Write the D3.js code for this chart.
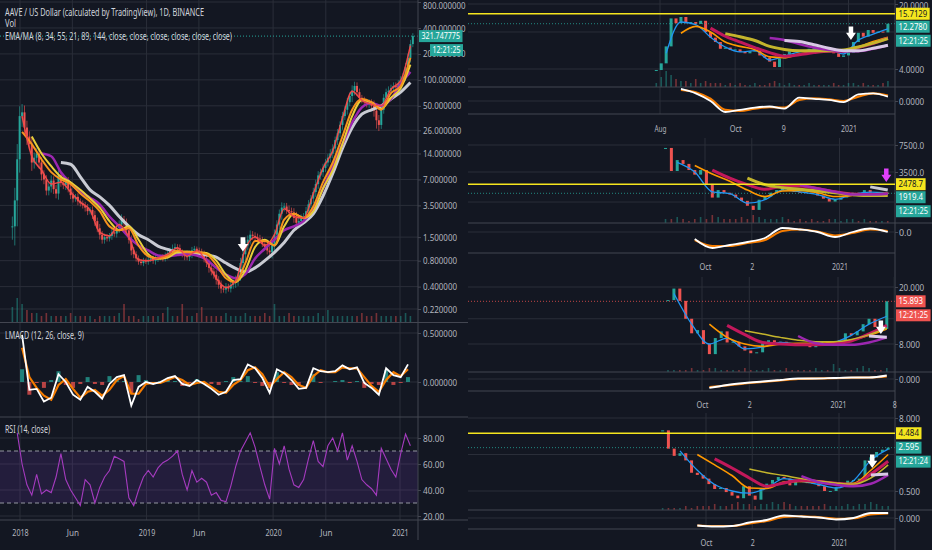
<!DOCTYPE html>
<html>
<head>
<meta charset="utf-8">
<script src="https://cdn.jsdelivr.net/npm/d3@7"></script>
<style>
  body { margin: 0; background: #131722; }
  svg { display: block; }
</style>
</head>
<body>
<svg id="chart" width="932" height="550"></svg>
<script>
// ---------- left chart: AAVE / USD, one close per week from 2017-12-10 ----------
const leftStart = new Date(2017, 11, 10);
const leftClose = [
  2.0, 4.0, 12, 38, 42, 28, 22, 18, 11, 12.5,
  14, 11, 8, 7, 5.2, 5.8, 6.8, 5.4, 4.8, 7.8,
  6.4, 6.0, 6.8, 5.5, 4.6, 4.2, 4.4, 3.9, 3.7, 3.5,
  3.3, 3.0, 3.1, 2.7, 2.3, 1.9, 1.6, 1.4, 1.5, 1.45,
  1.55, 1.7, 1.65, 1.9, 2.1, 2.4, 2.2, 1.8, 1.4, 1.05,
  0.95, 0.85, 0.78, 0.75, 0.8, 0.78, 0.82, 0.85, 0.8, 0.84,
  0.86, 0.88, 0.85, 0.92, 0.98, 1.05, 1.1, 1.15, 1.12, 1.0,
  0.95, 0.9, 0.88, 0.95, 1.05, 1.1, 1.05, 1.02, 0.95, 0.85,
  0.75, 0.66, 0.6, 0.55, 0.48, 0.42, 0.38, 0.37, 0.4, 0.38,
  0.42, 0.44, 0.48, 0.55, 0.75, 0.95, 1.2, 1.4, 1.6, 1.55,
  1.5, 1.45, 1.4, 1.25, 1.15, 1.05, 1.0, 1.2, 1.6, 2.1,
  2.8, 3.3, 3.4, 3.1, 3.0, 2.9, 2.5, 2.2, 2.3, 2.5,
  2.6, 3.0, 3.6, 4.2, 5.0, 6.2, 7.8, 8.5, 9.5, 11,
  12.5, 14, 16, 20, 24, 30, 38, 45, 55, 65,
  75, 85, 72, 62, 58, 55, 52, 54, 50, 44,
  34, 30, 45, 62, 72, 75, 80, 85, 82, 90,
  100, 110, 140, 180, 260, 322
];
// weekly high/low spread around each candle body (fraction of price)
const leftSpread = [
  0.3, 0.4, 0.5, 0.3, 0.25, 0.2, 0.2, 0.15, 0.2, 0.15,
  0.15, 0.15, 0.15, 0.12, 0.12, 0.12, 0.15, 0.12, 0.12, 0.15,
  0.1, 0.1, 0.12, 0.1, 0.1, 0.1, 0.08, 0.1, 0.08, 0.08,
  0.1, 0.1, 0.08, 0.1, 0.12, 0.1, 0.12, 0.1, 0.1, 0.08,
  0.08, 0.1, 0.08, 0.1, 0.12, 0.15, 0.1, 0.12, 0.1, 0.12,
  0.1, 0.08, 0.08, 0.06, 0.08, 0.06, 0.08, 0.06, 0.08, 0.1,
  0.08, 0.06, 0.08, 0.08, 0.1, 0.08, 0.12, 0.1, 0.08, 0.1,
  0.08, 0.1, 0.08, 0.1, 0.1, 0.08, 0.06, 0.08, 0.08, 0.1,
  0.1, 0.12, 0.1, 0.1, 0.12, 0.1, 0.12, 0.08, 0.1, 0.08,
  0.1, 0.1, 0.12, 0.15, 0.15, 0.12, 0.15, 0.12, 0.12, 0.1,
  0.1, 0.1, 0.1, 0.08, 0.08, 0.1, 0.12, 0.15, 0.15, 0.12,
  0.12, 0.15, 0.1, 0.1, 0.12, 0.1, 0.12, 0.18, 0.1, 0.1,
  0.1, 0.12, 0.12, 0.1, 0.12, 0.12, 0.12, 0.1, 0.12, 0.1,
  0.1, 0.12, 0.12, 0.1, 0.12, 0.1, 0.12, 0.1, 0.12, 0.1,
  0.15, 0.12, 0.1, 0.1, 0.08, 0.1, 0.08, 0.1, 0.1, 0.15,
  0.2, 0.15, 0.1, 0.1, 0.1, 0.12, 0.1, 0.1, 0.1, 0.1,
  0.1, 0.1, 0.12, 0.12, 0.12, 0.08
];
// volume, every 2 weeks
const leftVol = [
  5, 8, 6, 4, 3, 3, 2, 3, 2, 2, 2, 2, 3, 2, 2, 2, 2, 1, 2, 2,
  2, 2, 3, 6, 2, 2, 1, 2, 2, 2, 2, 3, 5, 2, 2, 6, 2, 2, 3, 5,
  2, 2, 2, 2, 3, 2, 2, 2, 3, 2, 2, 2, 3, 2, 6, 2, 2, 3, 2, 2,
  2, 2, 2, 3, 2, 4, 2, 2, 2, 2, 2, 2, 3, 2, 2, 3, 2, 2, 2, 2,
  2, 3, 2
];
// moving averages sampled every 4 weeks
const leftMaWeeks = [0, 4, 8, 12, 16, 20, 24, 28, 32, 36, 40, 44, 48, 52, 56, 60, 64, 68, 72, 76, 80,
  84, 88, 92, 96, 100, 104, 108, 112, 116, 120, 124, 128, 132, 136, 140, 144, 148, 152, 156, 160, 164];
const leftEma8 = [null, 38, 13, 9, 6.2, 6.5, 5, 3.8, 3.1, 1.7, 1.55, 2.1, 1.5, 0.82, 0.8, 0.86, 0.95, 1.12, 0.9, 1.04, 0.78,
  0.5, 0.39, 0.47, 1.1, 1.5, 1.2, 1.6, 3.2, 2.6, 2.5, 4.8, 9.5, 15, 36, 74, 58, 52, 50, 78, 98, 250];
const leftEma34 = [null, 25, 18, 12, 8.5, 7, 6.2, 4.8, 3.9, 3.0, 2.0, 1.8, 1.9, 1.2, 0.9, 0.85, 0.9, 1.05, 1.0, 1.0, 0.95,
  0.72, 0.5, 0.45, 0.75, 1.35, 1.35, 1.2, 2.4, 2.8, 2.5, 3.4, 6.5, 11, 22, 45, 60, 55, 45, 70, 85, 180];
const leftMa21 = [null, null, 22, 14, 10, 7.5, 6.5, 5.3, 4.2, 3.3, 2.3, 1.8, 2.0, 1.4, 0.95, 0.84, 0.87, 1.0, 1.02, 1.0, 0.98,
  0.8, 0.55, 0.45, 0.62, 1.15, 1.4, 1.2, 2.0, 2.8, 2.5, 3.0, 5.5, 9, 18, 38, 58, 55, 46, 62, 80, 150];
const leftMa89 = [null, null, null, 14, 13, 8.5, 6.3, 5.0, 4.3, 3.6, 2.6, 2.0, 1.5, 1.2, 1.05, 0.92, 0.9, 0.93, 0.95, 0.92, 0.82,
  0.66, 0.55, 0.5, 0.56, 0.85, 1.1, 1.4, 1.8, 2.0, 2.3, 3.2, 5.5, 10, 18, 32, 48, 54, 50, 60, 90, 124];
const leftMa144 = [null, null, null, null, null, 11, 10.5, 7.5, 5.3, 4.4, 3.5, 2.6, 2.0, 1.6, 1.4, 1.18, 1.08, 1.0, 0.98, 0.96, 0.93,
  0.88, 0.75, 0.65, 0.59, 0.66, 0.8, 1.0, 1.3, 1.8, 2.2, 2.8, 4.5, 8.2, 16, 28, 40, 45, 50, 60, 72, 93];
// LMACD every 3 weeks from week 4
const leftMacd = [0.48, -0.08, -0.07, -0.2, -0.16, 0.08, 0.0, -0.13, -0.18, -0.05, -0.1, -0.17, -0.02, 0.05, 0.07, -0.24,
  -0.05, 0.0, -0.02, 0.0, 0.04, 0.06, -0.02, -0.04, 0.02, -0.02, -0.07, -0.13, -0.1, 0.02, 0.03, 0.18, 0.14, 0.04,
  -0.11, 0.13, 0.09, 0.02, -0.07, -0.06, 0.14, 0.11, 0.1, 0.11, 0.17, 0.13, 0.15, -0.01, -0.06, -0.13, 0.14, 0.07, 0.05, 0.18];
const leftSignal = [0.35, 0.05, -0.06, -0.14, -0.18, -0.03, 0.03, -0.07, -0.16, -0.1, -0.08, -0.14, -0.08, 0.02, 0.06, -0.12,
  -0.12, -0.02, -0.01, -0.01, 0.02, 0.05, 0.02, -0.03, -0.01, 0.0, -0.05, -0.1, -0.11, -0.03, 0.02, 0.12, 0.15, 0.08,
  -0.05, 0.03, 0.1, 0.05, -0.03, -0.06, 0.06, 0.12, 0.1, 0.1, 0.15, 0.14, 0.14, 0.05, -0.04, -0.1, 0.02, 0.1, 0.06, 0.13];
const leftHist = [0.13, -0.13, -0.01, -0.06, 0.02, 0.11, -0.03, -0.06, -0.02, 0.05, -0.02, -0.03, 0.06, 0.03, 0.01, -0.12,
  0.07, 0.02, -0.01, 0.01, 0.02, 0.01, -0.04, -0.01, 0.03, -0.02, -0.02, -0.03, 0.01, 0.05, 0.01, 0.06, -0.01, -0.04,
  -0.06, 0.1, -0.01, -0.03, -0.04, 0.0, 0.08, -0.01, 0.0, 0.01, 0.02, -0.01, 0.01, -0.06, -0.02, -0.03, 0.12, -0.03, -0.01, 0.05];
// RSI every 2 weeks from week 2
const leftRsi = [84, 60, 44, 36, 52, 37, 40, 38, 50, 68, 48, 40, 34, 28, 48, 44, 30, 42, 50, 55,
  66, 64, 62, 34, 28, 40, 50, 55, 50, 57, 61, 63, 66, 70, 52, 40, 55, 46, 49, 46,
  36, 38, 32, 31, 43, 58, 70, 77, 84, 73, 58, 44, 33, 72, 60, 74, 56, 44, 42, 48,
  64, 78, 62, 58, 74, 80, 70, 84, 63, 74, 62, 48, 44, 41, 36, 72, 64, 56, 50, 68, 83, 74];
const leftPriceTicks = [800, 400, 200, 100, 50, 26, 14, 7, 3.5, 1.5, 0.8, 0.4, 0.22];
const leftMacdTicks = [0.5, 0];
const leftRsiTicks = [80, 60, 40, 20];
const leftTimeTicks = ['2018-01-01', '2018-06-01', '2019-01-01', '2019-06-01', '2020-01-01', '2020-06-01', '2021-01-01'];
const leftTimeLabels = ['2018', 'Jun', '2019', 'Jun', '2020', 'Jun', '2021'];
const leftLast = 321.747775;
const leftArrow = [95, 1.02]; // week, price under the arrow tip

// ---------- right column, four smaller charts, one close per 4 days ----------
const p1Close = [3.9, 4.6, 7.0, 14, 12.4, 14.5, 12.4, 12.8, 12.2, 13.2, 10, 8.7, 7.8, 6.6, 6.8, 6.4, 6.5, 6.1, 5.9, 6.2,
  6.3, 5.6, 5.3, 4.8, 4.2, 5.2, 5.8, 6.2, 6.4, 6.1, 6.4, 6.6, 6.7, 6.4, 6.6, 6.7, 5.9, 5.4, 5.6, 6.0,
  7.8, 9.8, 8.9, 10.5, 9.8, 10.1, 9.9, 12.28];
const p1Vol = [2, 5, 8, 6, 4, 3, 3, 2, 4, 2, 3, 2, 2, 2, 1, 2, 1, 2, 1, 1, 2, 1, 1, 2, 3, 2, 1, 2, 1, 1, 1, 2, 1, 1, 1, 1, 2, 1, 1, 2, 2, 1, 2, 1, 1, 1, 2, 3];
const p1Ema8 = [5.9, 12.8, 12.0, 8.8, 6.9, 6.1, 6.3, 5.0, 5.5, 6.1, 6.4, 6.4, 5.8, 8.2, 9.5, 10.8];
const p1Ema34 = [null, 9.7, 11.5, 10.0, 7.8, 7.0, 6.5, 5.4, 5.3, 5.8, 6.1, 6.3, 6.3, 6.9, 7.9, 8.8];
const p1Ema55 = [null, null, null, 11.0, 9.0, 7.8, 6.8, 6.0, 5.5, 5.7, 6.0, 6.2, 6.2, 6.8, 7.5, 8.6];
const p1Ma21 = [null, null, null, null, 9.6, 8.9, 8.1, 7.0, 6.5, 6.3, 6.3, 6.3, 6.4, 6.9, 7.6, 8.5];
const p1Ma89 = [null, null, null, null, null, null, null, 8.6, 8.2, 7.4, 6.8, 6.4, 6.2, 6.2, 6.6, 7.2];
const p1Ma144 = [null, null, null, null, null, null, null, null, 8.1, 7.9, 7.3, 6.7, 6.3, 6.3, 6.7, 7.2];
const p1Macd = [null, 1.1, 0.7, 0.0, -1.0, -0.8, -0.6, -0.5, -0.7, 0.3, 0.2, 0.1, -0.1, 0.6, 0.7, 0.4];
const p1Signal = [null, 1.0, 0.8, 0.2, -0.8, -0.9, -0.7, -0.55, -0.6, 0.1, 0.25, 0.15, 0.0, 0.4, 0.7, 0.5];
const p1TimeTicks = ['2020-08-01', '2020-10-01', '2020-11-09', '2021-01-01'];
const p1TimeLabels = ['Aug', 'Oct', '9', '2021'];
const p1Grid = [20, 10, 4];
const p1PriceLabels = [20, 4];

const p2Close = [6900, 3600, 4900, 4400, 3700, 3250, 3700, 2500, 1700, 2100, 1950, 1850, 1700, 1550, 1350, 1200, 1600, 1750, 1950, 2100,
  2200, 2050, 2000, 1980, 1960, 1950, 1800, 1650, 1520, 1600, 1700, 1850, 1950, 1930, 2100, 1950, 1850, 1950, 1919.4];
const p2Vol = [2, 2, 3, 2, 1, 2, 3, 2, 4, 3, 2, 2, 2, 3, 2, 4, 3, 2, 2, 2, 3, 2, 1, 2, 1, 2, 1, 1, 2, 2, 1, 2, 2, 1, 2, 1, 1, 1, 1];
const p2Ema8 = [4600, 3500, 2000, 1900, 1450, 1600, 2100, 2000, 1850, 1620, 1850, 1980, 1930];
const p2Ema34 = [null, 4200, 3300, 2700, 2100, 1750, 2050, 2080, 1950, 1750, 1800, 1880, 1920];
const p2Ema55 = [null, null, 3700, 2950, 2450, 2150, 2350, 2350, 2200, 2000, 1880, 1850, 1900];
const p2Ma21 = [null, null, null, null, 2950, 2450, 2250, 2150, 2050, 1950, 1850, 1800, 1800];
const p2Ma89 = [null, null, null, null, null, null, null, 2430, 2200, 2000, 1850, 1850, 1900];
const p2Ma144 = [null, null, null, null, null, null, null, null, null, null, null, 2300, 2100];
const p2Macd = [null, -0.7, -1.6, -1.3, -1.0, -0.6, 0.4, 0.25, 0.0, -0.5, 0.0, 0.35, 0.0];
const p2Signal = [null, -0.8, -1.4, -1.4, -1.1, -0.8, 0.1, 0.25, 0.05, -0.35, -0.1, 0.25, 0.1];
const p2TimeTicks = ['2020-10-01', '2020-11-02', '2021-01-01'];
const p2TimeLabels = ['Oct', '2', '2021'];
const p2Grid = [7500, 3500, 1500];
const p2PriceLabels = [7500, 3500];

const p3Close = [16.2, 19.5, 16, 12, 9.5, 10, 8, 6.8, 8.8, 9.8, 8.2, 8.3, 7.7, 7.2, 6.9, 7.0, 8.1, 8.5, 8.2, 8.3,
  8.1, 8.0, 7.9, 7.8, 7.6, 8.0, 8.3, 8.2, 8.2, 8.5, 9.5, 9.2, 9.8, 11, 12, 10.5, 10.2, 15.9];
const p3Vol = [1, 1, 1, 1, 2, 1, 1, 2, 2, 1, 1, 1, 1, 2, 1, 1, 1, 2, 1, 1, 2, 1, 1, 1, 1, 2, 1, 1, 4, 2, 1, 1, 2, 3, 2, 1, 1, 2];
const p3Ema8 = [18, 11, 8, 8.8, 7.4, 7.6, 8.2, 8.0, 7.9, 8.2, 9.2, 11, 12.5];
const p3Ema34 = [null, null, 11, 8.9, 8.0, 7.7, 8.0, 8.1, 8.1, 8.2, 8.5, 9.2, 10.2];
const p3Ema55 = [null, null, null, 10.8, 9.3, 8.2, 8.0, 7.9, 7.9, 8.0, 8.4, 9.4, 10.8];
const p3Ma21 = [null, null, null, null, 9.9, 9.4, 8.9, 8.5, 8.3, 8.3, 8.6, 9.3, 10.3];
const p3Ma89 = [null, null, null, null, null, null, null, 9.1, 8.1, 7.9, 7.9, 8.2, 8.9];
const p3Ma144 = [null, null, null, null, null, null, null, null, null, null, null, 9.1, 8.9];
const p3Macd = [null, null, -1.8, -1.2, -0.8, -0.5, -0.2, 0.1, 0.1, 0.2, 0.3, 0.3, 0.7];
const p3Signal = [null, null, -1.6, -1.3, -0.9, -0.6, -0.3, 0.0, 0.1, 0.15, 0.25, 0.3, 0.5];
const p3TimeTicks = ['2020-10-01', '2020-11-02', '2021-01-01', '2021-02-08'];
const p3TimeLabels = ['Oct', '2', '2021', '8'];
const p3Grid = [20, 12, 8];
const p3PriceLabels = [20, 8];

const p4Close = [5.0, 2.5, 1.9, 2.1, 1.6, 1.0, 0.92, 0.8, 0.65, 0.54, 0.56, 0.48, 0.42, 0.38, 0.6, 0.42, 0.36, 0.56, 0.66, 0.76,
  0.85, 0.8, 0.62, 0.74, 0.70, 0.68, 0.67, 0.6, 0.5, 0.5, 0.58, 0.64, 0.74, 0.76, 0.8, 1.6, 1.8, 2.2, 2.4, 2.6];
const p4Vol = [1, 1, 1, 1, 2, 1, 2, 2, 2, 3, 2, 2, 3, 4, 3, 3, 2, 3, 3, 4, 3, 4, 3, 2, 2, 2, 2, 2, 3, 2, 2, 2, 3, 2, 3, 3, 4, 3, 2, 2];
const p4Ema8 = [2.3, 1.1, 0.64, 0.5, 0.46, 0.56, 0.8, 0.72, 0.64, 0.56, 0.74, 1.6, 2.45];
const p4Ema34 = [null, 2.0, 1.35, 0.9, 0.56, 0.55, 0.7, 0.72, 0.7, 0.66, 0.67, 1.1, 2.0];
const p4Ema55 = [null, null, 1.7, 1.2, 0.82, 0.6, 0.68, 0.75, 0.72, 0.67, 0.64, 0.95, 1.55];
const p4Ma21 = [null, null, null, null, 1.15, 1.0, 0.9, 0.8, 0.73, 0.68, 0.65, 0.82, 1.35];
const p4Ma89 = [null, null, null, null, null, null, null, 0.88, 0.7, 0.63, 0.6, 0.66, 0.92];
const p4Ma144 = [null, null, null, null, null, null, null, null, null, null, null, 0.92, 0.95];
const p4Macd = [null, -1.5, -1.7, -1.6, -0.9, -0.4, 0.5, 0.3, 0.1, -0.3, 0.0, 1.0, 1.0];
const p4Signal = [null, -1.5, -1.6, -1.6, -1.1, -0.6, 0.2, 0.35, 0.15, -0.15, -0.05, 0.7, 0.9];
const p4TimeTicks = ['2020-10-01', '2020-11-02', '2021-01-01'];
const p4TimeLabels = ['Oct', '2', '2021'];
const p4Grid = [8, 2, 0.5];
const p4PriceLabels = [8, 0.5];

// ---------- drawing ----------
const svg = d3.select('#chart');
const defs = svg.append('defs');
const font = "'Noto Sans', sans-serif";
const up = '#26a69a', down = '#ef5350';
const gridColor = '#2a2e39', paneColor = '#434651', axisText = '#b2b5be';
const parse = d3.utcParse('%Y-%m-%d');

svg.append('rect').attr('width', 932).attr('height', 550).attr('fill', '#131722');

function hline(g, x1, x2, y, c, w) {
  return g.append('line').attr('x1', x1).attr('x2', x2).attr('y1', y).attr('y2', y)
    .attr('stroke', c || gridColor).attr('stroke-width', w || 1);
}
function vline(g, x, y1, y2, c) {
  return g.append('line').attr('x1', x).attr('x2', x).attr('y1', y1).attr('y2', y2)
    .attr('stroke', c || gridColor);
}
function txt(g, x, y, s, o = {}) {
  return g.append('text')
    .attr('x', x).attr('y', y).attr('dy', '0.35em')
    .attr('fill', o.fill || axisText)
    .attr('font-family', font)
    .attr('font-size', o.size || 9.5)
    .attr('text-anchor', o.anchor || 'start')
    .attr('textLength', o.len || s.length * (o.cw || 4.2))
    .attr('lengthAdjust', 'spacingAndGlyphs')
    .text(s);
}
function tag(g, x, y, s, bg, fg, cw) {
  const w = s.length * (cw || 4.1) + 5;
  g.append('rect').attr('x', x).attr('y', y - 6).attr('width', w).attr('height', 12).attr('fill', bg);
  txt(g, x + 2.5, y, s, { fill: fg, cw: cw || 4.1, size: 8 });
}
function clip(id, x, y, w, h) {
  defs.append('clipPath').attr('id', id).append('rect')
    .attr('x', x).attr('y', y).attr('width', w).attr('height', h);
  return 'url(#' + id + ')';
}
function arrow(g, x, y, color, s) {
  s = s || 1;
  g.append('path')
    .attr('d', `M${x - 2.5 * s},${y - 15 * s} h${5 * s} v${7 * s} h${3 * s} L${x},${y} L${x - 5.5 * s},${y - 8 * s} h${3 * s} Z`)
    .attr('fill', color);
}
function styleAxis(sel, cw) {
  sel.select('.domain').remove();
  sel.selectAll('line').attr('stroke', paneColor);
  sel.selectAll('text')
    .attr('fill', axisText).attr('font-family', font).attr('font-size', 9.5)
    .attr('textLength', function () { return this.textContent.length * cw; })
    .attr('lengthAdjust', 'spacingAndGlyphs');
  // labels right at the top edge: put their baseline at y = 8.5
  sel.selectAll('.tick').each(function () {
    const m = /translate\([^,]+,([^)]+)\)/.exec(this.getAttribute('transform'));
    if (m && +m[1] < 6) d3.select(this).select('text').attr('dy', (8.5 - m[1]) + 'px');
  });
  return sel;
}

// ----- left chart -----
const gl = svg.append('g');
const xL = d3.scaleUtc().domain([parse('2018-01-01'), parse('2021-01-01')]).range([20, 400]);
const yL = d3.scaleLog().domain([800, 0.22]).range([2, 309]);
const yLm = d3.scaleLinear().domain([0, 0.5]).range([382, 333]);
const yLr = d3.scaleLinear().domain([20, 80]).range([516, 438]);
const wk = i => xL(d3.utcDay.offset(leftStart, 7 * i));

leftTimeTicks.forEach(d => vline(gl, xL(parse(d)), 0, 520));
leftPriceTicks.forEach(v => hline(gl, 0, 418, yL(v)));
leftMacdTicks.forEach(v => hline(gl, 0, 418, yLm(v)));
leftRsiTicks.forEach(v => hline(gl, 0, 418, yLr(v)));

// RSI band 30..70
gl.append('rect').attr('x', 0).attr('width', 418).attr('y', yLr(70)).attr('height', yLr(30) - yLr(70))
  .attr('fill', 'rgba(126, 60, 200, 0.16)');
[70, 30].forEach(v => hline(gl, 0, 418, yLr(v), '#9598a1').attr('stroke-dasharray', '4,3'));

const gp = gl.append('g').attr('clip-path', clip('clipLP', 0, 0, 418, 322));

// volume
const leftVolWeeks = d3.range(0, leftClose.length, 2);
gp.append('g').selectAll('rect').data(leftVol).join('rect')
  .attr('x', (d, i) => wk(leftVolWeeks[i]) - 0.8).attr('width', 1.6)
  .attr('y', d => 322 - d * 3).attr('height', d => d * 3)
  .attr('fill', (d, i) => {
    const w = leftVolWeeks[i];
    return w && leftClose[w] < leftClose[w - 1] ? down : up;
  }).attr('opacity', 0.45);

// candles (open = previous close)
const leftOpen = i => i ? leftClose[i - 1] : leftClose[i];
const leftColor = (d, i) => d >= leftOpen(i) ? up : down;
gp.append('g').selectAll('line').data(leftClose).join('line')
  .attr('x1', (d, i) => wk(i)).attr('x2', (d, i) => wk(i))
  .attr('y1', (d, i) => yL(Math.max(d, leftOpen(i)) * (1 + leftSpread[i])))
  .attr('y2', (d, i) => yL(Math.min(d, leftOpen(i)) * (1 - leftSpread[i])))
  .attr('stroke', leftColor).attr('stroke-width', 0.8).attr('opacity', 0.8);
gp.append('g').selectAll('rect').data(leftClose).join('rect')
  .attr('x', (d, i) => wk(i) - 1).attr('width', 2)
  .attr('y', (d, i) => yL(Math.max(d, leftOpen(i))))
  .attr('height', (d, i) => Math.max(1, Math.abs(yL(d) - yL(leftOpen(i)))))
  .attr('fill', leftColor);

const maLine = (y) => d3.line().defined(d => d[1] != null)
  .x(d => d[0]).y(d => y(d[1])).curve(d3.curveMonotoneX);
const leftMas = [
  [leftMa144, '#c9cbd3', 3],
  [leftMa89, '#9c27b0', 2.5],
  [leftMa21, '#e8cf3a', 2],
  [leftEma34, '#f7931e', 2],
  [leftEma8, '#f04a4a', 1.5]
];
leftMas.forEach(([arr, c, w]) => {
  gp.append('path')
    .datum(leftMaWeeks.map((wkI, j) => [wk(wkI), arr[j]]))
    .attr('d', maLine(yL)).attr('fill', 'none').attr('stroke', c).attr('stroke-width', w);
});
arrow(gp, wk(leftArrow[0]), yL(leftArrow[1]), '#ffffff', 0.95);

// last price line
hline(gl, 0, 418, yL(leftLast), up).attr('stroke-dasharray', '1,2');

// LMACD pane
const gm = gl.append('g').attr('clip-path', clip('clipLM', 0, 323, 418, 94));
const leftMacdWeeks = d3.range(4, 4 + 3 * leftMacd.length, 3);
gm.append('g').selectAll('rect').data(leftHist).join('rect')
  .attr('x', (d, i) => wk(leftMacdWeeks[i]) - 2).attr('width', 4)
  .attr('y', d => Math.min(yLm(0), yLm(d))).attr('height', d => Math.abs(yLm(d) - yLm(0)))
  .attr('fill', d => d >= 0 ? up : down).attr('opacity', 0.75);
const lin = y => d3.line().defined(d => d[1] != null).x(d => d[0]).y(d => y(d[1]));
gm.append('path').datum(leftMacdWeeks.map((w, i) => [wk(w), leftSignal[i]]))
  .attr('d', lin(yLm)).attr('fill', 'none').attr('stroke', '#f57c00').attr('stroke-width', 2.2);
gm.append('path').datum(leftMacdWeeks.map((w, i) => [wk(w), leftMacd[i]]))
  .attr('d', lin(yLm)).attr('fill', 'none').attr('stroke', '#ffffff').attr('stroke-width', 1.8);

// RSI pane
const leftRsiWeeks = d3.range(2, 2 + 2 * leftRsi.length, 2);
gl.append('path').datum(leftRsiWeeks.map((w, i) => [wk(w), leftRsi[i]]))
  .attr('d', lin(yLr)).attr('fill', 'none').attr('stroke', '#a53bbf').attr('stroke-width', 1.1);

// pane borders
hline(gl, 0, 468, 322.5, paneColor);
hline(gl, 0, 468, 417, paneColor);
hline(gl, 0, 468, 520, paneColor);
vline(gl, 418, 0, 540, paneColor);

// axes
styleAxis(gl.append('g').attr('transform', 'translate(418,0)')
  .call(d3.axisRight(yL).tickValues(leftPriceTicks).tickFormat(d3.format('.6f')).tickSize(3).tickPadding(2)), 4.25);
styleAxis(gl.append('g').attr('transform', 'translate(418,0)')
  .call(d3.axisRight(yLm).tickValues(leftMacdTicks).tickFormat(d3.format('.6f')).tickSize(3).tickPadding(2)), 4.25);
styleAxis(gl.append('g').attr('transform', 'translate(418,0)')
  .call(d3.axisRight(yLr).tickValues(leftRsiTicks).tickFormat(d3.format('.2f')).tickSize(3).tickPadding(2)), 4.25);
styleAxis(gl.append('g').attr('transform', 'translate(0,527)')
  .call(d3.axisBottom(xL).tickValues(leftTimeTicks.map(parse)).tickFormat((d, i) => leftTimeLabels[i]).tickSize(0).tickPadding(0)), 4.1);

tag(gl, 419, yL(leftLast), d3.format('.6f')(leftLast), up, '#ffffff', 3.85);
tag(gl, 430, yL(leftLast) + 14, '12:21:25', up, '#ffffff', 3.5);

// titles
txt(gl, 5, 12, 'AAVE / US Dollar (calculated by TradingView), 1D, BINANCE', { fill: '#d1d4dc', size: 10, len: 199 });
txt(gl, 5, 23.5, 'Vol', { fill: '#d1d4dc', size: 10, len: 11 });
txt(gl, 5, 36, 'EMA/MA (8, 34, 55, 21, 89, 144, close, close, close, close, close, close)', { fill: '#d1d4dc', size: 10, len: 227 });
txt(gl, 5, 335, 'LMACD (12, 26, close, 9)', { fill: '#d1d4dc', size: 10, len: 79 });
txt(gl, 5, 429, 'RSI (14, close)', { fill: '#d1d4dc', size: 10, len: 45 });

// ----- right column -----
const yellow = '#f5e61e';
const panels = [
  { id: 'p1', start: '2020-07-29', close: p1Close, vol: p1Vol, maFirst: 2,
    ma: [p1Ema8, p1Ema34, p1Ema55, p1Ma21, p1Ma89, p1Ma144], macd: p1Macd, signal: p1Signal,
    timeDomain: ['2020-08-01', '2021-01-01'], timeRange: [660, 848.5], ticks: p1TimeTicks, tickLabels: p1TimeLabels,
    priceDomain: [20, 4], priceRange: [4, 69], grid: p1Grid, priceLabels: p1PriceLabels, fmt: '.4f',
    top: 0, divider: 87, zero: 101, unit: 11, bottom: 114, labelY: 127,
    last: 12.278, level: 15.7129, lastColor: up, time: '12:21:25',
    arrowAt: ['2021-01-03', 8.2], arrowColor: '#ffffff', oliveW: 3, whiteC: '#d9c9e6' },
  { id: 'p2', start: '2020-09-04', close: p2Close, vol: p2Vol, maFirst: 2,
    ma: [p2Ema8, p2Ema34, p2Ema55, p2Ma21, p2Ma89, p2Ma144], macd: p2Macd, signal: p2Signal,
    timeDomain: ['2020-10-01', '2021-01-01'], timeRange: [705, 839.5], ticks: p2TimeTicks, tickLabels: p2TimeLabels,
    priceDomain: [7500, 3500], priceRange: [145, 172], grid: p2Grid, priceLabels: p2PriceLabels, fmt: '.1f',
    top: 138, divider: 223, zero: 232, unit: 10, bottom: 253, labelY: 265,
    last: 1919.4, level: 2478.7, lastColor: up, time: '12:21:25',
    arrowAt: ['2021-02-02', 2640], arrowColor: '#e040fb', oliveW: 3, whiteC: '#c9cbd3' },
  { id: 'p3', start: '2020-09-08', close: p3Close, vol: p3Vol, maFirst: 1,
    ma: [p3Ema8, p3Ema34, p3Ema55, p3Ma21, p3Ma89, p3Ma144], macd: p3Macd, signal: p3Signal,
    timeDomain: ['2020-10-01', '2021-01-01'], timeRange: [702, 838], ticks: p3TimeTicks, tickLabels: p3TimeLabels,
    priceDomain: [20, 8], priceRange: [287, 344], grid: p3Grid, priceLabels: p3PriceLabels, fmt: '.3f',
    top: 277, divider: 372, zero: 379, unit: 5, bottom: 391, labelY: 403,
    last: 15.893, level: null, lastColor: down, time: '12:21:25',
    arrowAt: ['2021-01-30', 9.4], arrowColor: '#ffffff', oliveW: 1.5, whiteC: '#d9c9e6' },
  { id: 'p4', start: '2020-09-01', close: p4Close, vol: p4Vol, maFirst: 3,
    ma: [p4Ema8, p4Ema34, p4Ema55, p4Ma21, p4Ma89, p4Ma144], macd: p4Macd, signal: p4Signal,
    timeDomain: ['2020-10-01', '2021-01-01'], timeRange: [706, 839], ticks: p4TimeTicks, tickLabels: p4TimeLabels,
    priceDomain: [8, 0.5], priceRange: [418, 491], grid: p4Grid, priceLabels: p4PriceLabels, fmt: '.3f',
    top: 413, divider: 510, zero: 518, unit: 5, bottom: 529, labelY: 541,
    last: 2.595, level: 4.484, lastColor: up, time: '12:21:24',
    arrowAt: ['2021-01-24', 1.2], arrowColor: '#ffffff', oliveW: 1.5, whiteC: '#d9c9e6' }
];

const L = 468, R = 895;
vline(svg, R, 0, 550, paneColor);

panels.forEach(p => {
  const g = svg.append('g');
  const x = d3.scaleUtc().domain(p.timeDomain.map(parse)).range(p.timeRange);
  const y = d3.scaleLog().domain(p.priceDomain).range(p.priceRange);
  const ym = d3.scaleLinear().domain([0, 1]).range([p.zero, p.zero - p.unit]);
  const start = parse(p.start);
  const xk = k => x(d3.utcDay.offset(start, 4 * k));

  p.ticks.forEach(d => vline(g, x(parse(d)), p.top, p.bottom));
  p.grid.forEach(v => hline(g, L, R, y(v)));
  hline(g, L, R, p.zero);

  const gp = g.append('g').attr('clip-path', clip(p.id + 'a', L, p.top, R - L, p.divider - p.top));
  const open = i => i ? p.close[i - 1] : p.close[i];
  gp.append('g').selectAll('rect').data(p.vol).join('rect')
    .attr('x', (d, i) => xk(i) - 0.8).attr('width', 1.6)
    .attr('y', d => p.divider - d * 2).attr('height', d => d * 2)
    .attr('fill', (d, i) => p.close[i] >= open(i) ? up : down).attr('opacity', 0.45);
  gp.append('g').selectAll('rect').data(p.close).join('rect')
    .attr('x', (d, i) => xk(i) - 1.5).attr('width', 3)
    .attr('y', (d, i) => y(Math.max(d, open(i))))
    .attr('height', (d, i) => Math.max(1, Math.abs(y(d) - y(open(i)))))
    .attr('fill', (d, i) => d >= open(i) ? up : down);

  // price lines behind the averages
  hline(gp, L, R, y(p.last), p.lastColor).attr('stroke-dasharray', '1,2').attr('opacity', 0.8);
  if (p.level != null) hline(g, L, R, y(p.level), yellow, 1.5);

  const styles = [['#2196f3', 1.3], ['#ff9800', 1.6], ['#c2185b', 3], ['#c4b52c', p.oliveW], ['#9c27b0', 2.5], [p.whiteC, 3]];
  p.ma.forEach((arr, m) => {
    gp.append('path')
      .datum(arr.map((v, j) => [xk(p.maFirst + 3 * j), v]))
      .attr('d', maLine(y)).attr('fill', 'none')
      .attr('stroke', styles[m][0]).attr('stroke-width', styles[m][1]);
  });
  arrow(gp, x(parse(p.arrowAt[0])), y(p.arrowAt[1]), p.arrowColor, 0.9);

  // MACD
  const gm = g.append('g').attr('clip-path', clip(p.id + 'b', L, p.divider, R - L, p.bottom - p.divider));
  gm.append('path').datum(p.signal.map((v, j) => [xk(p.maFirst + 3 * j), v]))
    .attr('d', maLine(ym)).attr('fill', 'none').attr('stroke', '#f57c00').attr('stroke-width', 2.2);
  gm.append('path').datum(p.macd.map((v, j) => [xk(p.maFirst + 3 * j), v]))
    .attr('d', maLine(ym)).attr('fill', 'none').attr('stroke', '#ffffff').attr('stroke-width', 1.8);

  hline(g, L, 932, p.divider, paneColor);
  hline(g, L, R, p.bottom, paneColor);

  // axes
  styleAxis(g.append('g').attr('transform', `translate(${R},0)`)
    .call(d3.axisRight(y).tickValues(p.priceLabels).tickFormat(d3.format(p.fmt)).tickSize(3).tickPadding(1)), 4.2);
  styleAxis(g.append('g').attr('transform', `translate(${R},0)`)
    .call(d3.axisRight(ym).tickValues([0]).tickFormat(d3.format(p.fmt)).tickSize(3).tickPadding(1)), 4.2);
  styleAxis(g.append('g').attr('transform', `translate(0,${p.labelY - 4})`)
    .call(d3.axisBottom(x).tickValues(p.ticks.map(parse)).tickFormat((d, i) => p.tickLabels[i]).tickSize(0).tickPadding(0)), 4.0);

  // tags
  let tagY = y(p.last);
  if (p.level != null) {
    tag(g, R + 1, y(p.level), d3.format(p.fmt)(p.level), yellow, '#131722');
    tagY = Math.max(tagY, y(p.level) + 13);
  }
  tag(g, R + 1, tagY, d3.format(p.fmt)(p.last), p.lastColor, '#ffffff');
  tag(g, R + 1, tagY + 14, p.time, p.lastColor, '#ffffff', 3.7);
});
</script>
</body>
</html>
